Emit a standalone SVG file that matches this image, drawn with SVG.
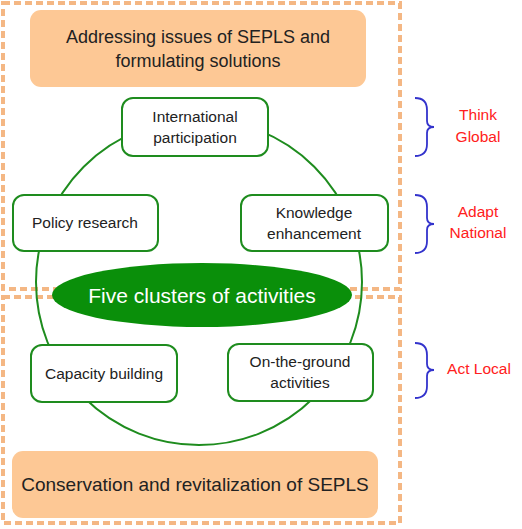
<svg xmlns="http://www.w3.org/2000/svg" width="522" height="529" viewBox="0 0 522 529">
<style>
.dash{fill:none;stroke:#F4B784;stroke-width:4;stroke-dasharray:7 4}
.goal{fill:#FDC895}
.node{fill:#fff;stroke:#1E8C1E;stroke-width:2}
.t{font-family:"Liberation Sans",Arial,sans-serif;fill:#222;text-anchor:middle}
.big{font-size:18px}
.sm{font-size:15.5px}
.red{font-family:"Liberation Sans",Arial,sans-serif;fill:#FF2020;font-size:15.5px;text-anchor:middle}
.brace{fill:none;stroke:#3333CC;stroke-width:1.8}
</style>
<rect width="522" height="529" fill="#fff"/>
<g id="regions">
<rect class="dash" x="3" y="3" width="397" height="286"/>
<rect class="dash" x="3" y="297" width="397" height="226"/>
</g>
<g id="top-goal">
<rect class="goal" x="30" y="10" width="336" height="77" rx="11"/>
<text class="t big" x="198" y="43">Addressing issues of SEPLS and</text>
<text class="t big" x="198" y="67">formulating solutions</text>
</g>
<g id="bottom-goal">
<rect class="goal" x="12" y="451" width="366" height="67" rx="11"/>
<text class="t" x="195" y="491" style="font-size:19px">Conservation and revitalization of SEPLS</text>
</g>
<g id="connectors">
<circle cx="199" cy="282" r="163" fill="none" stroke="#1E8C1E" stroke-width="2"/>
</g>
<g id="center">
<ellipse cx="202" cy="295" rx="150" ry="32" fill="#0A8F0A"/>
<text class="t" x="202" y="303" style="font-size:21px;fill:#fff">Five clusters of activities</text>
</g>
<g id="international">
<rect class="node" x="122" y="98" width="146" height="58" rx="11"/>
<text class="t sm" x="195" y="122">International</text>
<text class="t sm" x="195" y="143">participation</text>
</g>
<g id="policy">
<rect class="node" x="13" y="195" width="145" height="56" rx="11"/>
<text class="t sm" x="85" y="228">Policy research</text>
</g>
<g id="knowledge">
<rect class="node" x="241" y="195" width="147" height="56" rx="11"/>
<text class="t sm" x="314" y="218">Knowledge</text>
<text class="t sm" x="314" y="239">enhancement</text>
</g>
<g id="capacity">
<rect class="node" x="31" y="345" width="146" height="57" rx="11"/>
<text class="t sm" x="104" y="379">Capacity building</text>
</g>
<g id="ground">
<rect class="node" x="228" y="344" width="145" height="57" rx="11"/>
<text class="t sm" x="300" y="367">On-the-ground</text>
<text class="t sm" x="300" y="388">activities</text>
</g>
<g id="think-global">
<path class="brace" d="M415,98 Q427,98 427,110 L427,121 Q427,127 434,127 Q427,127 427,133 L427,144 Q427,156 415,156"/>
<text class="red" x="478" y="120">Think</text>
<text class="red" x="478" y="142">Global</text>
</g>
<g id="adapt-national">
<path class="brace" d="M415,195 Q427,195 427,207 L427,218 Q427,224 434,224 Q427,224 427,230 L427,241 Q427,253 415,253"/>
<text class="red" x="478" y="217">Adapt</text>
<text class="red" x="478" y="238">National</text>
</g>
<g id="act-local">
<path class="brace" d="M415,343 Q427,343 427,355 L427,364 Q427,370 434,370 Q427,370 427,376 L427,386 Q427,398 415,398"/>
<text class="red" x="479" y="374">Act Local</text>
</g>
</svg>
